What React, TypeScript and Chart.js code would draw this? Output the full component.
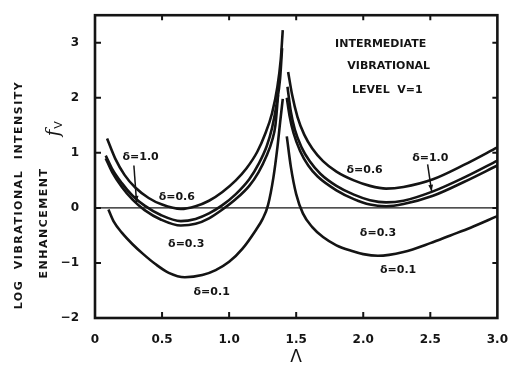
import React, { useEffect, useRef } from 'react';
import { Chart, registerables } from 'chart.js';

Chart.register(...registerables);

// ---- axis ticks ----
const xTicks = [0, 0.5, 1, 1.5, 2, 2.5, 3];
const xTickLabels = ['0', '0.5', '1.0', '1.5', '2.0', '2.5', '3.0'];
const yTicks = [-2, -1, 0, 1, 2, 3];
const yTickLabels = ['−2', '−1', '0', '1', '2', '3'];

// ---- series (Λ, log enhancement f_V) ----
const d06LeftL = [0.09, 0.15, 0.22, 0.3, 0.4, 0.5, 0.64, 0.75, 0.85, 0.95, 1.05, 1.13, 1.21, 1.27, 1.32, 1.36, 1.385, 1.4];
const d06LeftF = [1.26, 0.9, 0.6, 0.37, 0.18, 0.06, -0.02, 0.03, 0.13, 0.29, 0.5, 0.72, 1.02, 1.35, 1.72, 2.2, 2.7, 3.23];
const d06RightL = [1.44, 1.47, 1.51, 1.56, 1.62, 1.7, 1.8, 1.93, 2.05, 2.17, 2.3, 2.52, 2.75, 3.0];
const d06RightF = [2.47, 2.05, 1.65, 1.33, 1.08, 0.85, 0.66, 0.5, 0.4, 0.35, 0.38, 0.52, 0.78, 1.1];

const d10LeftL = [0.08, 0.13, 0.2, 0.28, 0.37, 0.49, 0.64, 0.75, 0.85, 0.95, 1.05, 1.15, 1.22, 1.28, 1.32, 1.355, 1.38, 1.395];
const d10LeftF = [0.95, 0.7, 0.45, 0.22, 0.04, -0.13, -0.24, -0.2, -0.1, 0.05, 0.25, 0.52, 0.8, 1.12, 1.45, 1.9, 2.35, 2.9];
const d10RightL = [1.435, 1.46, 1.49, 1.54, 1.6, 1.68, 1.8, 1.93, 2.05, 2.17, 2.3, 2.52, 2.75, 3.0];
const d10RightF = [2.2, 1.75, 1.42, 1.1, 0.85, 0.62, 0.4, 0.24, 0.14, 0.1, 0.13, 0.3, 0.55, 0.86];

const d03LeftL = [0.08, 0.13, 0.2, 0.28, 0.37, 0.49, 0.64, 0.75, 0.85, 0.95, 1.05, 1.15, 1.22, 1.28, 1.32, 1.345, 1.365];
const d03LeftF = [0.9, 0.64, 0.38, 0.15, -0.04, -0.21, -0.32, -0.29, -0.19, -0.03, 0.16, 0.4, 0.65, 0.95, 1.22, 1.5, 2.05];
const d03RightL = [1.43, 1.45, 1.48, 1.53, 1.59, 1.66, 1.8, 1.93, 2.05, 2.17, 2.3, 2.52, 2.75, 3.0];
const d03RightF = [2.0, 1.68, 1.36, 1.03, 0.77, 0.57, 0.32, 0.16, 0.06, 0.03, 0.07, 0.22, 0.47, 0.77];

const d01LeftL = [0.1, 0.14, 0.2, 0.28, 0.36, 0.45, 0.55, 0.67, 0.8, 0.9, 1.0, 1.1, 1.2, 1.25, 1.29, 1.33, 1.36, 1.38, 1.4];
const d01LeftF = [-0.03, -0.25, -0.45, -0.66, -0.84, -1.02, -1.18, -1.26, -1.22, -1.13, -0.98, -0.74, -0.4, -0.2, 0.05, 0.55, 1.1, 1.55, 1.98];
const d01RightL = [1.43, 1.46, 1.5, 1.55, 1.62, 1.7, 1.8, 1.91, 2.0, 2.11, 2.3, 2.5, 2.65, 2.8, 3.0];
const d01RightF = [1.3, 0.75, 0.25, -0.1, -0.35, -0.53, -0.68, -0.78, -0.84, -0.87, -0.8, -0.64, -0.5, -0.36, -0.15];

// ---- annotations ----
const curveLabels = ['δ=1.0', 'δ=0.6', 'δ=0.3', 'δ=0.1', 'δ=0.6', 'δ=1.0', 'δ=0.3', 'δ=0.1'];
const curveLabelL = [0.34, 0.61, 0.68, 0.87, 2.01, 2.5, 2.11, 2.26];
const curveLabelF = [0.93, 0.19, -0.66, -1.53, 0.68, 0.91, -0.45, -1.13];
const arrowFromL = [0.29, 2.48];
const arrowFromF = [0.77, 0.79];
const arrowToL = [0.31, 2.51];
const arrowToF = [0.1, 0.3];
const titleLines = ['INTERMEDIATE', 'VIBRATIONAL', 'LEVEL  V=1'];
const titleL = [2.13, 2.19, 2.18];
const titleF = [2.98, 2.58, 2.14];
const yTitle1 = 'LOG  VIBRATIONAL  INTENSITY';
const yTitle2 = 'ENHANCEMENT';
const xTitle = 'Λ';

const pts = (xs: number[], ys: number[]) => xs.map((x, i) => ({ x, y: ys[i] }));

const INK = '#141414';

const overlay = {
  id: 'overlay',
  afterDraw(chart: any) {
    const { ctx, chartArea: a, scales } = chart;
    const xs = scales.x;
    const ys = scales.y;
    const px = (v: number) => xs.getPixelForValue(v);
    const py = (v: number) => ys.getPixelForValue(v);
    ctx.save();
    ctx.strokeStyle = INK;
    ctx.fillStyle = INK;

    // zero line
    ctx.lineWidth = 1.4;
    ctx.beginPath();
    ctx.moveTo(a.left, py(0));
    ctx.lineTo(a.right, py(0));
    ctx.stroke();

    // inward ticks
    ctx.lineWidth = 2;
    xTicks.forEach((v) => {
      if (v <= 0 || v >= 3) return;
      ctx.beginPath();
      ctx.moveTo(px(v), a.bottom);
      ctx.lineTo(px(v), a.bottom - 6);
      ctx.moveTo(px(v), a.top);
      ctx.lineTo(px(v), a.top + 5);
      ctx.stroke();
    });
    yTicks.forEach((v) => {
      if (v <= -2) return;
      ctx.beginPath();
      ctx.moveTo(a.left, py(v));
      ctx.lineTo(a.left + 6, py(v));
      ctx.moveTo(a.right, py(v));
      ctx.lineTo(a.right - 5, py(v));
      ctx.stroke();
    });

    // frame
    ctx.lineWidth = 2.6;
    ctx.strokeRect(a.left, a.top, a.right - a.left, a.bottom - a.top);

    // curve labels
    ctx.font = "bold 11px 'DejaVu Sans'";
    ctx.textAlign = 'center';
    ctx.textBaseline = 'middle';
    curveLabels.forEach((t, i) => ctx.fillText(t, px(curveLabelL[i]), py(curveLabelF[i])));

    // arrows
    ctx.lineWidth = 1.5;
    arrowFromL.forEach((_, i) => {
      const x1 = px(arrowFromL[i]), y1 = py(arrowFromF[i]);
      const x2 = px(arrowToL[i]), y2 = py(arrowToF[i]);
      ctx.beginPath();
      ctx.moveTo(x1, y1);
      ctx.lineTo(x2, y2);
      ctx.stroke();
      const ang = Math.atan2(y2 - y1, x2 - x1);
      ctx.beginPath();
      ctx.moveTo(x2, y2);
      ctx.lineTo(x2 - 7 * Math.cos(ang - 0.35), y2 - 7 * Math.sin(ang - 0.35));
      ctx.lineTo(x2 - 7 * Math.cos(ang + 0.35), y2 - 7 * Math.sin(ang + 0.35));
      ctx.closePath();
      ctx.fill();
    });

    // title block
    ctx.font = "bold 11px 'DejaVu Sans'";
    titleLines.forEach((t, i) => ctx.fillText(t, px(titleL[i]), py(titleF[i])));

    // y-axis title (rotated)
    ctx.font = "bold 11px 'DejaVu Sans'";
    (ctx as any).letterSpacing = '1.5px';
    ctx.save();
    ctx.translate(19, 195);
    ctx.rotate(-Math.PI / 2);
    ctx.fillText(yTitle1, 0, 0);
    ctx.restore();
    ctx.save();
    ctx.translate(44, 223);
    ctx.rotate(-Math.PI / 2);
    ctx.fillText(yTitle2, 0, 0);
    ctx.restore();
    (ctx as any).letterSpacing = '0px';
    ctx.save();
    ctx.translate(54, 130);
    ctx.rotate(-Math.PI / 2);
    ctx.font = "italic 18px 'DejaVu Serif'";
    ctx.fillText('f', -3, 0);
    ctx.font = "11px 'DejaVu Sans'";
    ctx.fillText('V', 5, 5);
    ctx.restore();

    // x-axis title
    ctx.font = "17px 'DejaVu Sans'";
    ctx.fillText(xTitle, px(1.5), 358);

    ctx.restore();
  },
};

export default function App() {
  const ref = useRef<HTMLCanvasElement | null>(null);
  useEffect(() => {
    if (!ref.current) return;
    const line = (xs: number[], ys: number[]) => ({
      data: pts(xs, ys),
      borderColor: INK,
      borderWidth: 2.6,
      pointRadius: 0,
      fill: false,
      cubicInterpolationMode: 'monotone' as const,
    });
    const chart = new Chart(ref.current, {
      type: 'line',
      data: {
        datasets: [
          line(d06LeftL, d06LeftF),
          line(d06RightL, d06RightF),
          line(d10LeftL, d10LeftF),
          line(d10RightL, d10RightF),
          line(d03LeftL, d03LeftF),
          line(d03RightL, d03RightF),
          line(d01LeftL, d01LeftF),
          line(d01RightL, d01RightF),
        ],
      },
      options: {
        animation: false,
        responsive: false,
        events: [],
        layout: { padding: { top: 14, right: 12, left: 0, bottom: 0 } },
        plugins: { legend: { display: false }, tooltip: { enabled: false } },
        scales: {
          x: {
            type: 'linear',
            min: 0,
            max: 3,
            afterFit: (s: any) => { s.height = 49; },
            afterBuildTicks: (s: any) => { s.ticks = xTicks.map((v) => ({ value: v })); },
            grid: { display: false },
            border: { display: false },
            ticks: {
              padding: 7,
              color: INK,
              font: { family: 'DejaVu Sans', size: 12, weight: 'bold' },
              callback: (v: any) => xTickLabels[xTicks.indexOf(Number(v))],
              maxRotation: 0,
            },
          },
          y: {
            type: 'linear',
            min: -2,
            max: 3.5,
            afterFit: (s: any) => { s.width = 95; },
            afterBuildTicks: (s: any) => { s.ticks = yTicks.map((v) => ({ value: v })); },
            grid: { display: false },
            border: { display: false },
            ticks: {
              padding: 8,
              color: INK,
              font: { family: 'DejaVu Sans', size: 12, weight: 'bold' },
              callback: (v: any) => yTickLabels[yTicks.indexOf(Number(v))],
            },
          },
        },
      },
      plugins: [overlay],
    });
    return () => chart.destroy();
  }, []);
  return (
    <div style={{ position: 'absolute', left: 0, top: 0, width: 515, height: 367, background: '#fff' }}>
      <canvas ref={ref} width={515} height={367} style={{ width: 515, height: 367, display: 'block' }} />
    </div>
  );
}
